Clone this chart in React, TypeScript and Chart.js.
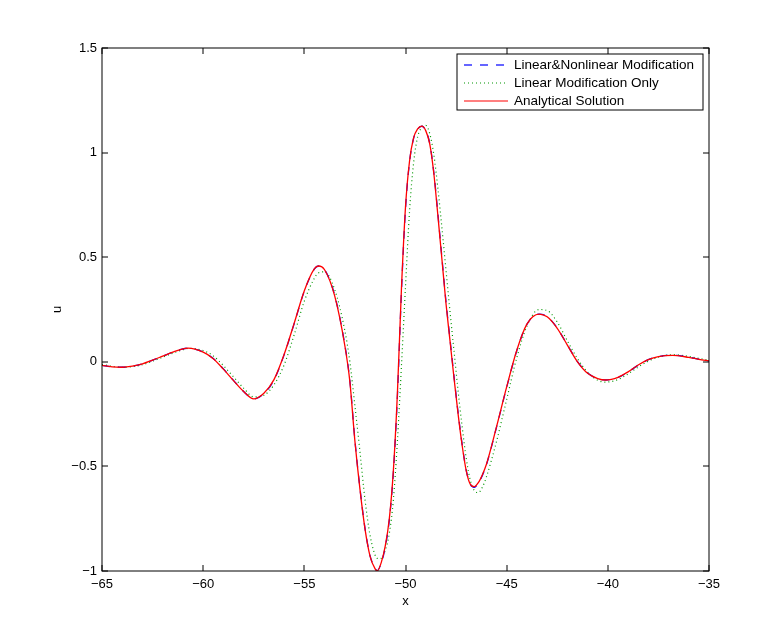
import React, { useEffect, useRef } from "react";
import { Chart, registerables } from "chart.js";

Chart.register(...registerables);

const xValues = [
  -65, -64.5, -64, -63.5, -63, -62.5, -62, -61.5, -61, -60.75,
  -60, -59.5, -59, -58.5, -58, -57.5, -57, -56.5, -56, -55.5,
  -55, -54.5, -54.3, -54, -53.5, -53, -52.75, -52.5, -52.25, -52,
  -51.75, -51.5, -51.4, -51.2, -51, -50.8, -50.6, -50.4, -50.2, -50,
  -49.8, -49.6, -49.4, -49.2, -49, -48.8, -48.6, -48.4, -48.2, -48,
  -47.8, -47.6, -47.4, -47.2, -47, -46.8, -46.6, -46.4, -46.2, -46,
  -45.5, -45, -44.5, -44, -43.4, -43, -42.5, -42, -41.5, -41,
  -40.5, -40.1, -39.5, -39, -38.5, -38, -37.5, -36.8, -36, -35.5, -35,
];

const analytical = [
  -0.017, -0.024, -0.026, -0.021, -0.01, 0.008, 0.027, 0.046, 0.062, 0.065,
  0.046, 0.015, -0.035, -0.09, -0.142, -0.177, -0.15, -0.085, 0.035, 0.185,
  0.34, 0.445, 0.458, 0.44, 0.315, 0.078, -0.095, -0.38, -0.61, -0.8,
  -0.93, -0.99, -1.0, -0.96, -0.88, -0.75, -0.52, -0.15, 0.35, 0.74,
  0.96, 1.07, 1.113, 1.127, 1.105, 1.04, 0.9, 0.7, 0.49, 0.28,
  0.1, -0.08, -0.25, -0.4, -0.52, -0.585, -0.597, -0.578, -0.54, -0.49,
  -0.31, -0.12, 0.055, 0.18, 0.228, 0.215, 0.16, 0.08, 0.0, -0.055,
  -0.08, -0.087, -0.074, -0.048, -0.015, 0.01, 0.025, 0.031, 0.021, 0.012, 0.004,
];

const linearNonlinear = [
  -0.017, -0.024, -0.026, -0.021, -0.01, 0.008, 0.027, 0.046, 0.062, 0.065,
  0.047, 0.016, -0.034, -0.089, -0.142, -0.178, -0.152, -0.087, 0.033, 0.183,
  0.338, 0.444, 0.458, 0.441, 0.318, 0.082, -0.09, -0.375, -0.605, -0.797,
  -0.928, -0.988, -0.998, -0.962, -0.885, -0.757, -0.53, -0.165, 0.335, 0.73,
  0.955, 1.068, 1.112, 1.126, 1.106, 1.043, 0.905, 0.708, 0.498, 0.288,
  0.108, -0.072, -0.243, -0.395, -0.518, -0.585, -0.6, -0.58, -0.543, -0.492,
  -0.312, -0.122, 0.053, 0.179, 0.228, 0.216, 0.161, 0.081, 0.001, -0.054,
  -0.08, -0.087, -0.075, -0.049, -0.016, 0.01, 0.025, 0.031, 0.022, 0.012, 0.004,
];

const linearOnly = [
  -0.012, -0.022, -0.026, -0.023, -0.014, 0.003, 0.022, 0.041, 0.058, 0.064,
  0.054, 0.028, -0.018, -0.072, -0.126, -0.168, -0.16, -0.11, -0.015, 0.13,
  0.29, 0.4, 0.425, 0.43, 0.345, 0.15, 0.0, -0.21, -0.43, -0.66,
  -0.83, -0.925, -0.94, -0.94, -0.9, -0.82, -0.66, -0.38, -0.02, 0.36,
  0.72, 0.95, 1.075, 1.12, 1.13, 1.09, 0.99, 0.83, 0.64, 0.44,
  0.24, 0.05, -0.14, -0.31, -0.46, -0.565, -0.615, -0.625, -0.6, -0.55,
  -0.38, -0.18, 0.02, 0.17, 0.25, 0.245, 0.19, 0.1, 0.015, -0.05,
  -0.088, -0.097, -0.085, -0.058, -0.025, 0.003, 0.022, 0.034, 0.026, 0.016, 0.007,
];

const xTicks = [-65, -60, -55, -50, -45, -40, -35];
const yTicks = [-1, -0.5, 0, 0.5, 1, 1.5];
const legendLabels = [
  "Linear&Nonlinear Modification",
  "Linear Modification Only",
  "Analytical Solution",
];
const xTitle = "x";
const yTitle = "u";

const FONT = "'Liberation Sans', Arial, Helvetica, sans-serif";
const BLUE = "rgb(0,0,255)";
const GREEN = "rgb(0,150,0)";
const RED = "rgb(255,0,0)";

const fmt = (v: number) => {
  const s = String(Math.abs(v));
  return v < 0 ? "\u2212" + s : s;
};

const toPoints = (ys: number[]) => xValues.map((x, i) => ({ x, y: ys[i] }));

const framePlugin = {
  id: "matlabFrame",
  afterDraw(chart: any) {
    const ctx: CanvasRenderingContext2D = chart.ctx;
    const chartArea = chart.chartArea;
    const xs = chart.scales.x;
    const ys = chart.scales.y;
    const L = Math.round(chartArea.left);
    const R = Math.round(chartArea.right);
    const T = Math.round(chartArea.top);
    const B = Math.round(chartArea.bottom);
    ctx.save();
    ctx.strokeStyle = "#000";
    ctx.lineWidth = 1;
    ctx.setLineDash([]);
    ctx.strokeRect(L, T, R - L, B - T);
    const tl = 6;
    ctx.beginPath();
    xTicks.forEach((v) => {
      const p = Math.round(xs.getPixelForValue(v));
      ctx.moveTo(p, B);
      ctx.lineTo(p, B - tl);
      ctx.moveTo(p, T);
      ctx.lineTo(p, T + tl);
    });
    yTicks.forEach((v) => {
      const p = Math.round(ys.getPixelForValue(v));
      ctx.moveTo(L, p);
      ctx.lineTo(L + tl, p);
      ctx.moveTo(R, p);
      ctx.lineTo(R - tl, p);
    });
    ctx.stroke();
    ctx.restore();

    // legend
    ctx.save();
    const bx = 457, by = 54, bw = 246, bh = 56;
    ctx.fillStyle = "#fff";
    ctx.fillRect(bx, by, bw, bh);
    ctx.lineWidth = 1;
    ctx.strokeStyle = "#000";
    ctx.strokeRect(bx, by, bw, bh);
    const styles = [
      { color: BLUE, dash: [8, 8] },
      { color: GREEN, dash: [1, 3] },
      { color: RED, dash: [] as number[] },
    ];
    const rows = [65, 83, 101];
    legendLabels.forEach((lab, i) => {
      ctx.save();
      ctx.beginPath();
      ctx.lineWidth = 1.2;
      ctx.strokeStyle = styles[i].color;
      ctx.setLineDash(styles[i].dash);
      ctx.moveTo(464, rows[i]);
      ctx.lineTo(508, rows[i]);
      ctx.stroke();
      ctx.restore();
      ctx.font = `13.5px ${FONT}`;
      ctx.textBaseline = "middle";
      ctx.textAlign = "left";
      ctx.fillStyle = "#000";
      ctx.fillText(lab, 514, rows[i]);
    });
    ctx.restore();
  },
};

export default function App() {
  const ref = useRef<HTMLCanvasElement | null>(null);
  useEffect(() => {
    if (!ref.current) return;
    const chart = new Chart(ref.current, {
      type: "line",
      data: {
        datasets: [
          {
            label: legendLabels[2],
            data: toPoints(analytical),
            borderColor: RED,
            borderWidth: 1.3,
            pointRadius: 0,
            cubicInterpolationMode: "monotone",
          },
          {
            label: legendLabels[0],
            data: toPoints(linearNonlinear),
            borderColor: BLUE,
            borderWidth: 1.3,
            borderDash: [8, 8],
            pointRadius: 0,
            cubicInterpolationMode: "monotone",
          },
          {
            label: legendLabels[1],
            data: toPoints(linearOnly),
            borderColor: GREEN,
            borderWidth: 1.2,
            borderDash: [1, 3],
            pointRadius: 0,
            cubicInterpolationMode: "monotone",
          },
        ],
      },
      options: {
        responsive: false,
        animation: false,
        devicePixelRatio: 1,
        layout: { padding: { top: 48, right: 73, left: 0, bottom: 0 } },
        plugins: { legend: { display: false }, tooltip: { enabled: false } },
        scales: {
          x: {
            type: "linear",
            min: -65,
            max: -35,
            grid: { display: false, drawTicks: false },
            border: { display: false },
            afterFit: (s: any) => {
              s.height = 72;
            },
            afterBuildTicks: (s: any) => {
              s.ticks = xTicks.map((v) => ({ value: v }));
            },
            ticks: {
              callback: (v: any) => fmt(Number(v)),
              font: { family: FONT, size: 13 },
              color: "#000",
              padding: 6,
              maxRotation: 0,
            },
            title: {
              display: true,
              text: xTitle,
              font: { family: FONT, size: 13 },
              color: "#000",
              padding: { top: 0, bottom: 34 },
            },
          },
          y: {
            type: "linear",
            min: -1,
            max: 1.5,
            grid: { display: false, drawTicks: false },
            border: { display: false },
            afterFit: (s: any) => {
              s.width = 102;
            },
            afterBuildTicks: (s: any) => {
              s.ticks = yTicks.map((v) => ({ value: v }));
            },
            ticks: {
              callback: (v: any) => fmt(Number(v)),
              font: { family: FONT, size: 13 },
              color: "#000",
              padding: 5,
            },
            title: {
              display: true,
              text: yTitle,
              font: { family: FONT, size: 13 },
              color: "#000",
              padding: { top: 50, bottom: 0 },
            },
          },
        },
      },
      plugins: [framePlugin],
    } as any);
    return () => chart.destroy();
  }, []);
  return (
    <div style={{ position: "absolute", left: 0, top: 0, width: 782, height: 643, background: "#fff" }}>
      <canvas ref={ref} width={782} height={643} />
    </div>
  );
}
